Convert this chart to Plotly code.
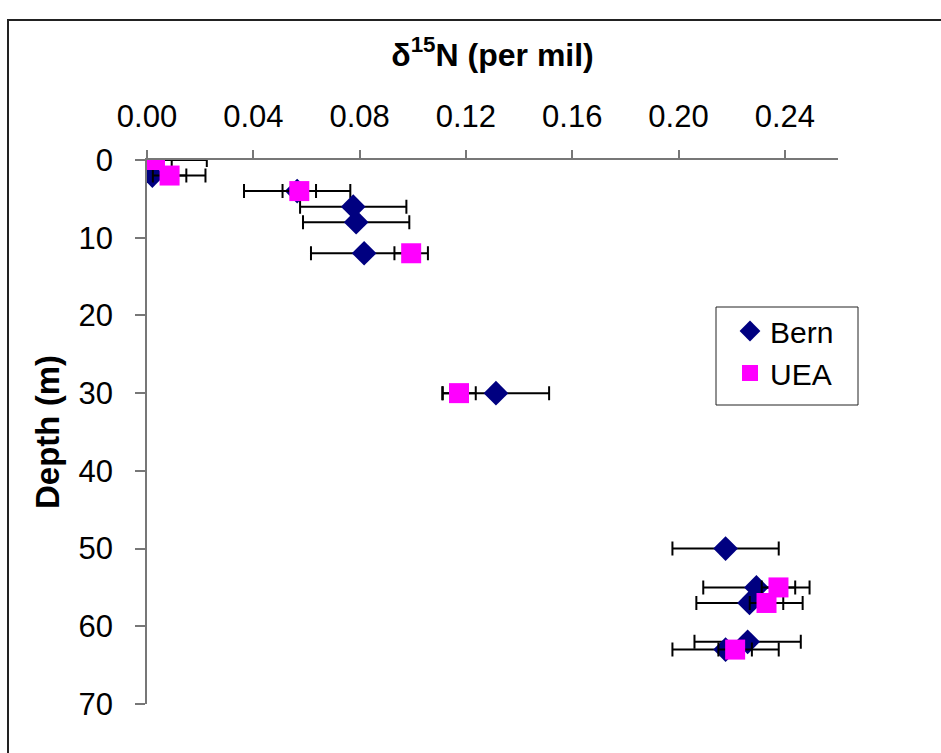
import plotly.graph_objects as go

# Bern data
bern_depth = [0, 2, 4, 6, 8, 12, 30, 50, 55, 57, 62, 63]
bern_d15n = [0.0025, 0.002, 0.0565, 0.0776, 0.0787, 0.0817, 0.1313, 0.2177, 0.2293, 0.2267, 0.2260, 0.2177]
bern_err = [0.02] * len(bern_depth)

# UEA data
uea_depth = [0, 2, 4, 12, 30, 55, 57, 63]
uea_d15n = [0.003, 0.0085, 0.0573, 0.0994, 0.1174, 0.2376, 0.2331, 0.2213]
uea_err = [0.0063] * len(uea_depth)

x_ticks = [0.00, 0.04, 0.08, 0.12, 0.16, 0.20, 0.24]
y_ticks = [0, 10, 20, 30, 40, 50, 60, 70]

FONT = "Arial, Liberation Sans, sans-serif"

fig = go.Figure()
fig.add_trace(go.Scatter(
    x=bern_d15n, y=bern_depth, mode="markers", name="Bern",
    marker=dict(symbol="diamond", size=19, color="#000080"),
    error_x=dict(type="data", array=bern_err, color="black", thickness=2, width=7),
))
fig.add_trace(go.Scatter(
    x=uea_d15n, y=uea_depth, mode="markers", name="UEA",
    marker=dict(symbol="square", size=20, color="#FF00FF"),
    error_x=dict(type="data", array=uea_err, color="black", thickness=2, width=7),
))

L, R, T, B = 147, 103, 160, 49
W, H = 941, 753
pw, ph = W - L - R, H - T - B

def px_x(p):
    return (p - L) / pw

def px_y(p):
    return (H - B - p) / ph

fig.update_layout(
    width=W, height=H, autosize=False,
    margin=dict(l=L, r=R, t=T, b=B, pad=0),
    paper_bgcolor="white", plot_bgcolor="white",
    font=dict(family=FONT, size=30, color="black"),
    showlegend=True,
    legend=dict(
        x=px_x(730), y=px_y(305), xanchor="left", yanchor="top",
        borderwidth=0, bgcolor="rgba(0,0,0,0)",
        font=dict(family=FONT, size=30, color="black"),
    ),
    xaxis=dict(
        side="top", range=[0, 0.26], tickvals=x_ticks,
        ticktext=[f"{v:.2f}" for v in x_ticks],
        showline=True, linecolor="#777", linewidth=1.5,
        ticks="outside", ticklen=8, tickcolor="#777", tickwidth=1.5,
        showgrid=False, zeroline=False,
        ticklabelstandoff=11,
        tickfont=dict(family=FONT, size=31),
        title=dict(text="<b>δ<sup>15</sup>N (per mil)</b>", standoff=23,
                   font=dict(family=FONT, size=32)),
    ),
    yaxis=dict(
        range=[70, 0], tickvals=y_ticks,
        showline=True, linecolor="#777", linewidth=1.5,
        ticks="outside", ticklen=10, tickcolor="#777", tickwidth=1.5,
        showgrid=False, zeroline=False,
        ticklabelstandoff=16,
        tickfont=dict(family=FONT, size=31),
        title=dict(text="<b>Depth (m)</b>", standoff=9,
                   font=dict(family=FONT, size=33)),
    ),
    shapes=[
        dict(
            type="rect", xref="paper", yref="paper",
            x0=px_x(8), x1=px_x(990), y0=px_y(800), y1=px_y(20),
            line=dict(color="#222", width=2), fillcolor="rgba(0,0,0,0)",
            layer="below",
        ),
        dict(
            type="rect", xref="paper", yref="paper",
            x0=px_x(716), x1=px_x(858), y0=px_y(405), y1=px_y(307),
            line=dict(color="#222", width=1), fillcolor="white",
            layer="below",
        ),
    ],
)

fig.write_html("out.html")
